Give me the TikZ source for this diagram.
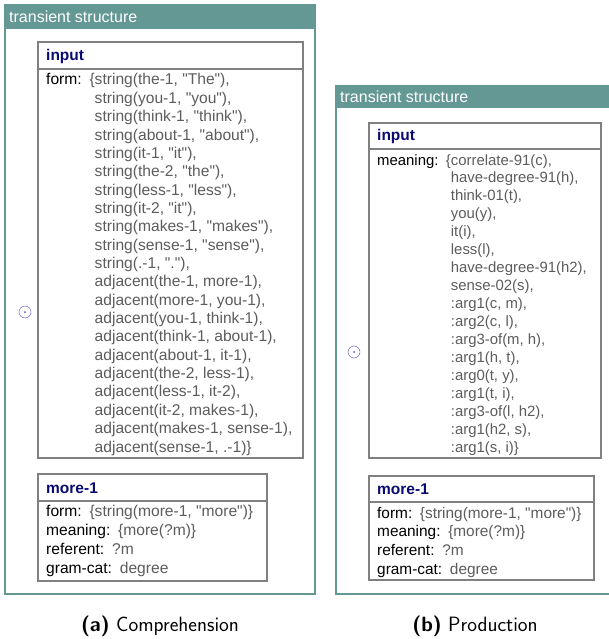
\documentclass[tikz,border=0pt]{standalone}
\usepackage{fontspec}
\setmainfont{Liberation Sans}[Ligatures=TeXOff]
\usepackage{array}
\usepackage{tikz}
\usetikzlibrary{positioning}

\definecolor{tsteal}{RGB}{100,152,149}
\definecolor{unitgray}{RGB}{128,128,128}
\definecolor{valgray}{RGB}{92,92,92}
\definecolor{unitblue}{RGB}{10,10,115}
\definecolor{dotblue}{RGB}{80,80,200}

\newcolumntype{V}{>{\color{valgray}}l}
\newcommand{\featrow}[2]{#1\hspace{0.5em}\textcolor{valgray}{#2}}

\begin{document}
\begin{tikzpicture}[
            x=1pt, y=-1pt,
            tsframe/.style={draw=tsteal, line width=2.5pt},
            tshead/.style={fill=tsteal},
            tstitle/.style={anchor=west, inner sep=0pt, text=white, font=\fontsize{16}{19}\selectfont},
            unitbox/.style={draw=unitgray, line width=2pt},
            unitsep/.style={draw=unitgray, line width=1.4pt},
            unitname/.style={anchor=west, inner sep=0pt, text=unitblue, font=\fontsize{15.5}{18}\selectfont\bfseries},
            feats/.style={anchor=base west, inner sep=0pt},
            dot/.style={circle, draw=dotblue, thin, inner sep=0pt, minimum size=12pt},
            caption/.style={inner sep=0pt, font=\fontsize{20.7}{24}\selectfont\sffamily}
        ]
        \useasboundingbox (0,0) rectangle (608,639);

        % Left transient structure (a)
        \fill [tshead] (4,4) rectangle (316,29);
        \draw [tsframe] (5,5) rectangle (315,594);
        \node [tstitle] (tsa) at (9,17) {transient structure};
        \node [dot] (dota) at (25,312) {};
        \fill [dotblue] (dota.center) circle (1pt);

        \draw [unitbox] (38,42) rectangle (303,458);
        \draw [unitsep] (38,69) -- (303,69);
        \node [unitname] (inputa) at (46,56) {input};
        \node [feats, font=\fontsize{15.6}{18.35}\selectfont] (formsa) at (46,85) {%
            \begin{tabular}[t]{@{}l@{\hspace{0.5em}}V@{}}
            form: & \{string(the-1, "The"),\\
            & \phantom{\{}string(you-1, "you"),\\
            & \phantom{\{}string(think-1, "think"),\\
            & \phantom{\{}string(about-1, "about"),\\
            & \phantom{\{}string(it-1, "it"),\\
            & \phantom{\{}string(the-2, "the"),\\
            & \phantom{\{}string(less-1, "less"),\\
            & \phantom{\{}string(it-2, "it"),\\
            & \phantom{\{}string(makes-1, "makes"),\\
            & \phantom{\{}string(sense-1, "sense"),\\
            & \phantom{\{}string(.-1, "."),\\
            & \phantom{\{}adjacent(the-1, more-1),\\
            & \phantom{\{}adjacent(more-1, you-1),\\
            & \phantom{\{}adjacent(you-1, think-1),\\
            & \phantom{\{}adjacent(think-1, about-1),\\
            & \phantom{\{}adjacent(about-1, it-1),\\
            & \phantom{\{}adjacent(the-2, less-1),\\
            & \phantom{\{}adjacent(less-1, it-2),\\
            & \phantom{\{}adjacent(it-2, makes-1),\\
            & \phantom{\{}adjacent(makes-1, sense-1),\\
            & \phantom{\{}adjacent(sense-1, .-1)\}
            \end{tabular}};

        \draw [unitbox] (38,474) rectangle (267,581);
        \draw [unitsep] (38,501) -- (267,501);
        \node [unitname] (morea) at (46,488) {more-1};
        \node [feats, font=\fontsize{15.6}{19.3}\selectfont] (featsa) at (46,516) {%
            \begin{tabular}[t]{@{}l@{}}
            \featrow{form:}{\{string(more-1, "more")\}}\\
            \featrow{meaning:}{\{more(?m)\}}\\
            \featrow{referent:}{?m}\\
            \featrow{gram-cat:}{degree}
            \end{tabular}};

        \node [caption] (capa) at (160,626) {\textbf{(a)} Comprehension};

        % Right transient structure (b)
        \fill [tshead] (335,85) rectangle (612,108);
        \draw [tsframe] (336,86) rectangle (612,594);
        \node [tstitle] (tsb) at (340,97) {transient structure};
        \node [dot] (dotb) at (354,352) {};
        \fill [dotblue] (dotb.center) circle (1pt);

        \draw [unitbox] (369,123) rectangle (601,458);
        \draw [unitsep] (369,149) -- (601,149);
        \node [unitname] (inputb) at (377,136) {input};
        \node [feats, font=\fontsize{14.9}{17.95}\selectfont] (meaningsb) at (377,165) {%
            \begin{tabular}[t]{@{}l@{\hspace{0.5em}}V@{}}
            meaning: & \{correlate-91(c),\\
            & \phantom{\{}have-degree-91(h),\\
            & \phantom{\{}think-01(t),\\
            & \phantom{\{}you(y),\\
            & \phantom{\{}it(i),\\
            & \phantom{\{}less(l),\\
            & \phantom{\{}have-degree-91(h2),\\
            & \phantom{\{}sense-02(s),\\
            & \phantom{\{}:arg1(c, m),\\
            & \phantom{\{}:arg2(c, l),\\
            & \phantom{\{}:arg3-of(m, h),\\
            & \phantom{\{}:arg1(h, t),\\
            & \phantom{\{}:arg0(t, y),\\
            & \phantom{\{}:arg1(t, i),\\
            & \phantom{\{}:arg3-of(l, h2),\\
            & \phantom{\{}:arg1(h2, s),\\
            & \phantom{\{}:arg1(s, i)\}
            \end{tabular}};

        \draw [unitbox] (369,476) rectangle (594,580);
        \draw [unitsep] (369,502) -- (594,502);
        \node [unitname] (moreb) at (377,489) {more-1};
        \node [feats, font=\fontsize{15.4}{18.7}\selectfont] (featsb) at (377,518) {%
            \begin{tabular}[t]{@{}l@{}}
            \featrow{form:}{\{string(more-1, "more")\}}\\
            \featrow{meaning:}{\{more(?m)\}}\\
            \featrow{referent:}{?m}\\
            \featrow{gram-cat:}{degree}
            \end{tabular}};

        \node [caption] (capb) at (475,626) {\textbf{(b)} Production};
\end{tikzpicture}
\end{document}
